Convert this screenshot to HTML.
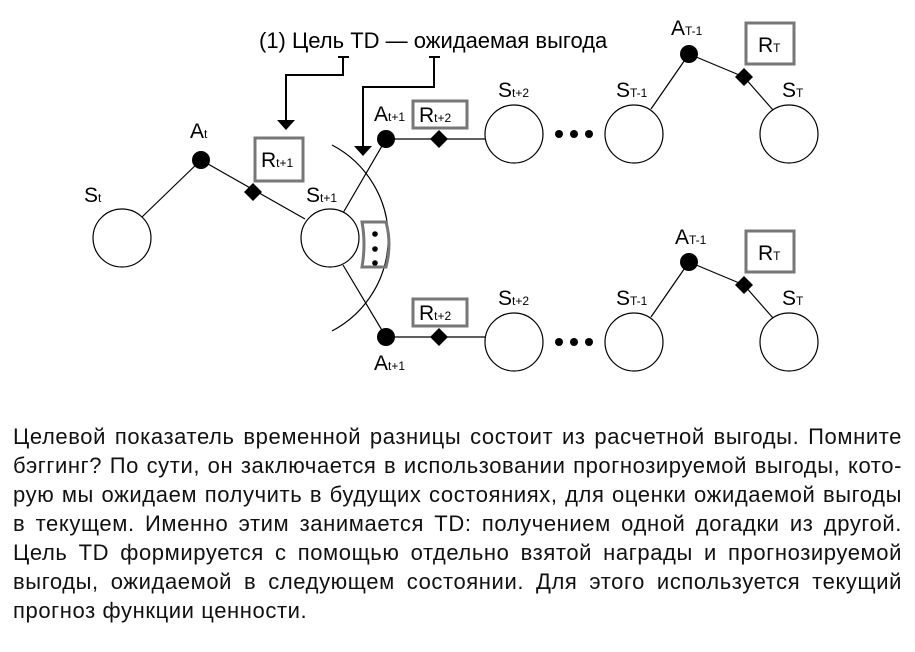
<!DOCTYPE html>
<html><head><meta charset="utf-8"><style>
body{margin:0;width:915px;height:652px;background:#fff;overflow:hidden;position:relative}
svg{position:absolute;left:0;top:0}
.p{position:absolute;left:13px;width:889px;font-family:"Liberation Sans",sans-serif;font-size:22px;letter-spacing:0.6px;color:#111;line-height:29px;white-space:nowrap}
.j{text-align:justify;text-align-last:justify}
</style></head><body>
<svg width="915" height="400" viewBox="0 0 915 400" font-family="Liberation Sans, sans-serif">
<g stroke="#000" stroke-width="1.2" fill="none">
<line x1="142" y1="217" x2="201" y2="160"/>
<line x1="201" y1="160" x2="305" y2="219"/>
<line x1="343" y1="213" x2="386" y2="139"/>
<line x1="343" y1="265" x2="386" y2="337"/>
<line x1="386" y1="139" x2="485" y2="139"/>
<line x1="386" y1="337" x2="485" y2="337"/>
<line x1="651" y1="109" x2="689" y2="54"/>
<line x1="689" y1="54" x2="744" y2="77"/>
<line x1="744" y1="77" x2="773" y2="110"/>
<line x1="651" y1="317" x2="689" y2="262"/>
<line x1="689" y1="262" x2="744" y2="285"/>
<line x1="744" y1="285" x2="773" y2="318"/>
<path d="M332 145 A105 105 0 0 1 332 331"/>
</g>
<g fill="#fff" stroke="#000" stroke-width="1.2">
<circle cx="122" cy="238" r="29"/><circle cx="330" cy="238" r="29"/>
<circle cx="514" cy="134" r="29"/><circle cx="634" cy="134" r="29"/><circle cx="789" cy="134" r="29"/>
<circle cx="514" cy="342" r="29"/><circle cx="634" cy="342" r="29"/><circle cx="789" cy="342" r="29"/>
</g>
<g fill="#000">
<circle cx="201" cy="160" r="9"/><circle cx="386" cy="139" r="9"/><circle cx="386" cy="337" r="9"/>
<circle cx="689" cy="54" r="9"/><circle cx="689" cy="262" r="9"/>
<path d="M253 183 L262 192 L253 201 L244 192Z"/>
<path d="M439 130 L448 139 L439 148 L430 139Z"/>
<path d="M439 328 L448 337 L439 346 L430 337Z"/>
<path d="M744 68 L753 77 L744 86 L735 77Z"/>
<path d="M744 276 L753 285 L744 294 L735 285Z"/>
<circle cx="559" cy="134" r="4"/><circle cx="574" cy="134" r="4"/><circle cx="589" cy="134" r="4"/>
<circle cx="559" cy="342" r="4"/><circle cx="574" cy="342" r="4"/><circle cx="589" cy="342" r="4"/>
<circle cx="375" cy="234" r="2.8"/><circle cx="375" cy="249" r="2.8"/><circle cx="375" cy="263" r="2.8"/>
<path d="M277 120 L295 120 L286 130Z"/>
<path d="M354 146 L372 146 L363 156Z"/>
</g>
<g fill="none" stroke="#777" stroke-width="3">
<rect x="255" y="138" width="48" height="43"/>
<rect x="413" y="101" width="54" height="27"/>
<rect x="413" y="299" width="54" height="27"/>
<rect x="746" y="23" width="48" height="41"/>
<rect x="746" y="231" width="48" height="41"/>
<path d="M362 222 L386 222 Q392 244 386 267 L362 267 Q366 244 362 222Z"/>
</g>
<g stroke="#000" stroke-width="2" fill="none">
<path d="M338 57 L349 57 M343 57 L343 75 L286 75 L286 121"/>
<path d="M429 57 L440 57 M434 57 L434 87 L363 87 L363 147"/>
</g>
<g fill="#000" font-size="21">
<text x="259" y="48" font-size="22">(1) Цель TD — ожидаемая выгода</text>
<text x="84" y="202">S<tspan font-size="12">t</tspan></text>
<text x="190" y="138">A<tspan font-size="12">t</tspan></text>
<text x="261" y="167">R<tspan font-size="12">t+1</tspan></text>
<text x="306" y="202">S<tspan font-size="12">t+1</tspan></text>
<text x="374" y="121">A<tspan font-size="12">t+1</tspan></text>
<text x="419" y="122">R<tspan font-size="12">t+2</tspan></text>
<text x="419" y="320">R<tspan font-size="12">t+2</tspan></text>
<text x="374" y="370">A<tspan font-size="12">t+1</tspan></text>
<text x="498" y="97">S<tspan font-size="12">t+2</tspan></text>
<text x="616" y="97">S<tspan font-size="12">T-1</tspan></text>
<text x="671" y="35">A<tspan font-size="12">T-1</tspan></text>
<text x="758" y="52">R<tspan font-size="12">T</tspan></text>
<text x="782" y="97">S<tspan font-size="12">T</tspan></text>
<text x="498" y="305">S<tspan font-size="12">t+2</tspan></text>
<text x="616" y="305">S<tspan font-size="12">T-1</tspan></text>
<text x="675" y="244">A<tspan font-size="12">T-1</tspan></text>
<text x="758" y="260">R<tspan font-size="12">T</tspan></text>
<text x="782" y="305">S<tspan font-size="12">T</tspan></text>
</g>
</svg>
<div class="p j" style="top:422px">Целевой показатель временной разницы состоит из расчетной выгоды. Помните</div>
<div class="p j" style="top:451px">бэггинг? По сути, он заключается в использовании прогнозируемой выгоды, кото-</div>
<div class="p j" style="top:480px">рую мы ожидаем получить в будущих состояниях, для оценки ожидаемой выгоды</div>
<div class="p j" style="top:509px">в текущем. Именно этим занимается TD: получением одной догадки из другой.</div>
<div class="p j" style="top:538px">Цель TD формируется с помощью отдельно взятой награды и прогнозируемой</div>
<div class="p j" style="top:567px">выгоды, ожидаемой в следующем состоянии. Для этого используется текущий</div>
<div class="p" style="top:596px">прогноз функции ценности.</div>
</body></html>
